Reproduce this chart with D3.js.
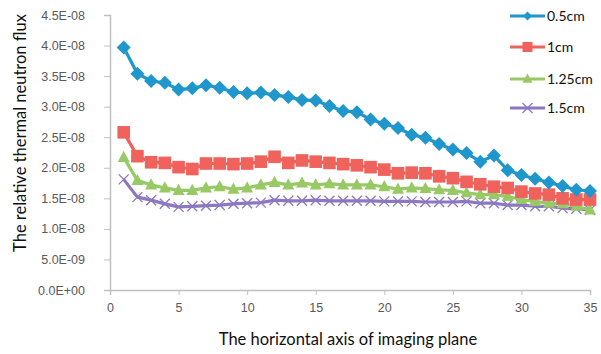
<!DOCTYPE html>
<html><head><meta charset="utf-8">
<script src="https://cdn.jsdelivr.net/npm/d3@7"></script>
<style>body{margin:0;background:#fff;} svg{display:block;font-family:Lato,"Open Sans",sans-serif;}</style>
</head><body>
<svg id="c" width="601" height="354"></svg>
<script>
const xValues = d3.range(1, 36);
const seriesNames = ["0.5cm", "1cm", "1.25cm", "1.5cm"];
const s05 = [3.97,3.54,3.42,3.39,3.28,3.30,3.35,3.31,3.24,3.22,3.23,3.19,3.16,3.11,3.10,3.01,2.93,2.91,2.79,2.72,2.65,2.54,2.49,2.39,2.30,2.24,2.10,2.20,1.96,1.88,1.82,1.76,1.70,1.64,1.62];
const s1 = [2.58,2.19,2.09,2.08,2.01,1.98,2.07,2.07,2.06,2.07,2.10,2.18,2.08,2.12,2.10,2.08,2.06,2.04,2.01,1.97,1.91,1.92,1.91,1.86,1.83,1.77,1.73,1.69,1.67,1.61,1.58,1.56,1.50,1.48,1.48];
const s125 = [2.17,1.79,1.72,1.67,1.63,1.63,1.67,1.69,1.65,1.67,1.72,1.76,1.72,1.75,1.72,1.74,1.72,1.72,1.72,1.69,1.65,1.67,1.66,1.64,1.63,1.59,1.56,1.56,1.53,1.48,1.45,1.42,1.41,1.37,1.31];
const s15 = [1.81,1.52,1.47,1.41,1.36,1.37,1.38,1.39,1.41,1.42,1.43,1.47,1.46,1.46,1.47,1.46,1.46,1.46,1.46,1.45,1.45,1.45,1.44,1.44,1.44,1.45,1.42,1.42,1.39,1.39,1.37,1.37,1.34,1.33,1.31];
const yTickValues = [0,0.5,1,1.5,2,2.5,3,3.5,4,4.5];
const yTickLabels = ["0.0E+00","5.0E-09","1.0E-08","1.5E-08","2.0E-08","2.5E-08","3.0E-08","3.5E-08","4.0E-08","4.5E-08"];
const xTickValues = [0,5,10,15,20,25,30,35];
const colors = ["#1f97cc","#f0625c","#97c965","#8c78c0"];
const markers = ["diamond","square","triangle","x"];
const allSeries = [s05, s1, s125, s15];

const svg = d3.select("#c");
const x = d3.scaleLinear().domain([0,35]).range([110,590]);
const y = d3.scaleLinear().domain([0,4.5]).range([290,15]);
const axisColor = "#c0c0c0", textColor = "#595959";

// y axis
const ya = svg.append("g").attr("transform","translate(110,0)")
  .call(d3.axisLeft(y).tickValues(yTickValues).tickSize(6).tickFormat((d,i)=>yTickLabels[i]));
ya.select(".domain").attr("stroke",axisColor).attr("stroke-width",1.5);
ya.selectAll(".tick line").attr("stroke",axisColor).attr("stroke-width",1);
ya.selectAll(".tick text").attr("fill",textColor).attr("font-size",12.5).attr("x",-25);

// x axis
const xa = svg.append("g").attr("transform","translate(0,290)")
  .call(d3.axisBottom(x).tickValues(xTickValues).tickSize(5).tickFormat(d3.format("d")));
xa.select(".domain").attr("stroke",axisColor).attr("stroke-width",1.5);
xa.selectAll(".tick line").attr("stroke",axisColor).attr("stroke-width",1);
xa.selectAll(".tick text").attr("fill",textColor).attr("font-size",12.5).attr("y",13);

// titles
svg.append("text").attr("x",348).attr("y",345).attr("text-anchor","middle")
  .attr("font-size",16.5).attr("fill","#111").text("The horizontal axis of imaging plane");
svg.append("text").attr("transform","translate(26,133) rotate(-90)").attr("text-anchor","middle")
  .attr("font-size",16.5).attr("fill","#111").text("The relative thermal neutron flux");

function drawMarker(g, type, color, cx, cy, s) {
  if (type==="diamond") {
    g.append("path").attr("d",`M${cx},${cy-s}L${cx+s},${cy}L${cx},${cy+s}L${cx-s},${cy}Z`).attr("fill",color);
  } else if (type==="square") {
    g.append("rect").attr("x",cx-s).attr("y",cy-s).attr("width",2*s).attr("height",2*s).attr("fill",color);
  } else if (type==="triangle") {
    g.append("path").attr("d",`M${cx},${cy-s*1.1}L${cx+s},${cy+s*0.75}L${cx-s},${cy+s*0.75}Z`).attr("fill",color);
  } else {
    g.append("path").attr("d",`M${cx-s},${cy-s}L${cx+s},${cy+s}M${cx-s},${cy+s}L${cx+s},${cy-s}`)
      .attr("stroke",color).attr("stroke-width",1.3).attr("fill","none");
  }
}
const sizes = [7,6.3,6,5];

const line = d3.line().x((d,i)=>x(xValues[i])).y(d=>y(d));
for (let k=allSeries.length-1;k>=0;k--) {
  const g = svg.append("g");
  g.append("path").datum(allSeries[k]).attr("d",line).attr("fill","none")
    .attr("stroke",colors[k]).attr("stroke-width",3.2).attr("stroke-linejoin","round");
  allSeries[k].forEach((v,i)=>drawMarker(g, markers[k], colors[k], x(xValues[i]), y(v), sizes[k]));
}

// legend
const legY = [16,47,79,108];
seriesNames.forEach((n,k)=>{
  const g = svg.append("g");
  g.append("line").attr("x1",510).attr("x2",545).attr("y1",legY[k]).attr("y2",legY[k])
    .attr("stroke",colors[k]).attr("stroke-width",3);
  drawMarker(g, markers[k], colors[k], 527.5, legY[k], k===0?4.5:5);
  g.append("text").attr("x",547).attr("y",legY[k]).attr("dy","0.35em")
    .attr("font-size",14).attr("fill","#111").text(n);
});
</script>
</body></html>
